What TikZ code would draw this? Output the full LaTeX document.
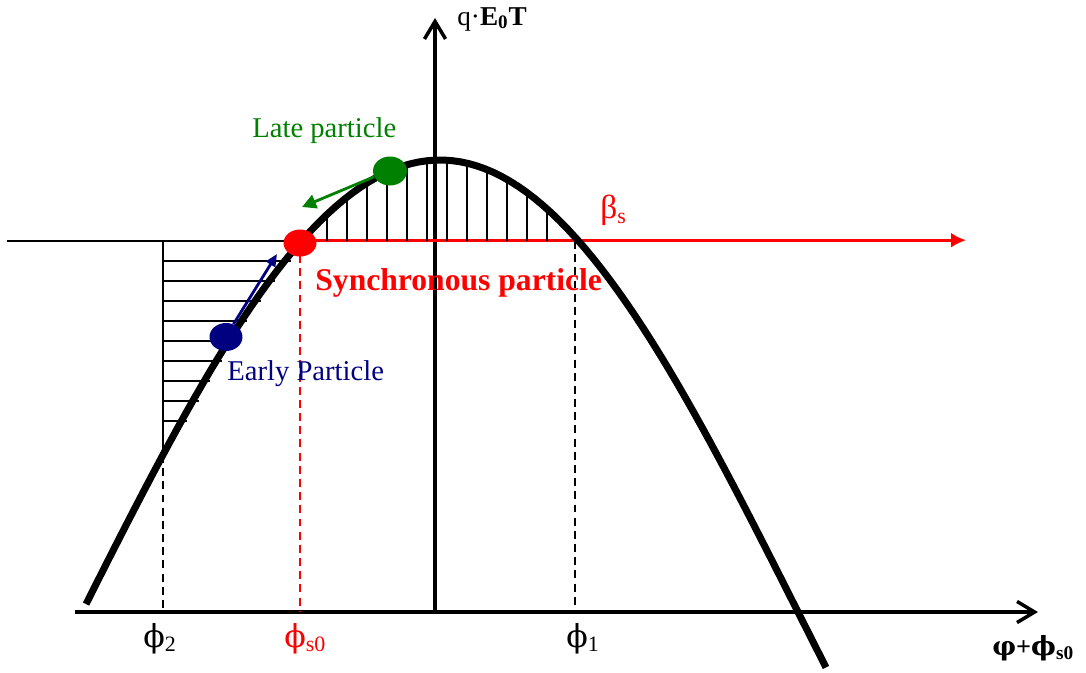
\documentclass[tikz,border=0pt]{standalone}
\usepackage{fontspec}
\setmainfont{Liberation Serif}
\newfontfamily\grk{DejaVu Serif}
\usepackage{xcolor}
\usepackage{tikz}
\usetikzlibrary{arrows.meta,shapes.geometric}
\definecolor{figRed}{HTML}{FF0000}
\definecolor{figNavy}{HTML}{000080}
\definecolor{figGreen}{HTML}{008000}

% phase label: big phi with a subscript
\newcommand{\phaselbl}[1]{{\grk\fontsize{18}{22}\selectfont ϕ}{\fontsize{12.5}{14}\selectfont\raisebox{-2.5pt}{#1}}}

\begin{document}
\begin{tikzpicture}[
  x=0.02cm, y=-0.02cm,
  every node/.style={inner sep=0pt},
  axis/.style={line width=2pt, -{Straight Barb[length=10pt,width=12pt,line width=2pt]}},
  hatch/.style={line width=1pt},
  guide/.style={line width=0.9pt, dash pattern=on 4.5pt off 3pt},
  dot/.style={ellipse, fill, minimum width=0.66cm, minimum height=0.56cm},
  lbl/.style={font=\fontsize{16.3}{19}\selectfont, anchor=base west},
]

% --- Constants ---
\def\cx{440}    % crest position
\def\amp{452}   % amplitude
\def\kw{0.2514} % degrees per pixel
\def\yax{612}   % phase axis
\def\ys{241}    % synchronous level

\useasboundingbox (0,0) rectangle (1086,673);

% --- Axes ---
\coordinate (xstart) at (75,\yax);
\coordinate (xend)   at (1038,\yax);
\coordinate (ystart) at (435,\yax);
\coordinate (yend)   at (435,18);
\draw[axis] (xstart) -- (xend);
\draw[axis] (ystart) -- (yend);

% --- Synchronous level ---
\coordinate (lvlstart) at (7,\ys);
\coordinate (lvlend)   at (908,\ys);
\coordinate (betastart) at (300,\ys-0.8);
\coordinate (betaend)   at (966,\ys-0.8);
\draw[line width=1.2pt] (lvlstart) -- (lvlend);
\draw[figRed, line width=1.6pt, -{Latex[length=8.5pt,width=8.5pt]}] (betastart) -- (betaend);

% --- Vertical hatching under the crest ---
\foreach \x in {327,347,...,547} {
  \draw[hatch] (\x,\ys) -- (\x,{\yax-\amp*cos((\x-\cx)*\kw)});
}

% --- Horizontal hatching on the left ---
\foreach \y in {261,281,...,421} {
  \draw[hatch] (163,\y) -- ({\cx-acos((\yax-\y)/\amp)/\kw+6},\y);
}
\draw[hatch] (163,\ys) -- (163,455);

% --- Phase guides ---
\draw[guide] (163,455) -- (163,\yax);
\draw[guide] (575,\ys) -- (575,\yax);
\draw[guide, figRed, line width=1pt] (300,255) -- (300,\yax);

% --- RF wave ---
\draw[line width=4pt] plot[domain=86:826, samples=90, variable=\x]
  (\x,{\yax-\amp*cos((\x-\cx)*\kw)});

% --- Particles ---
\node[dot, figNavy] (early) at (226,337) {};
\node[dot, figRed, minimum height=0.54cm] (sync) at (300,243) {};
\node[dot, figGreen, minimum width=0.68cm, minimum height=0.58cm] (late) at (390,171) {};

\coordinate (earlyTip) at (277,254);
\coordinate (lateTip)  at (302,207);
\draw[figNavy, line width=1.6pt, -{Triangle[length=7pt,width=6pt]}] (early.60) -- (earlyTip);
\draw[figGreen, line width=1.6pt, -{Triangle[length=8pt,width=8pt]}] (late.200) -- (lateTip);

% --- Labels ---
\node[lbl, text=figGreen] (latelbl)  at (252,137) {Late particle};
\node[lbl, text=figNavy]  (earlylbl) at (227,380) {Early Particle};
\node[lbl, text=figRed, font=\fontsize{18}{20}\selectfont\bfseries] (synclbl) at (315,290) {Synchronous particle};
\node[anchor=base west, text=figRed] (betalbl) at (600,218)
  {{\fontsize{19}{22}\selectfont β}{\fontsize{12.5}{14}\selectfont\raisebox{-3pt}{s}}};
\node[anchor=base west, font=\fontsize{15.5}{18}\selectfont] (ylbl) at (457,25)
  {q·\textbf{E\textsubscript{0}T}};

\node[anchor=base west] (phi2)  at (143,647) {\phaselbl{2}};
\node[anchor=base west, text=figRed] (phis0) at (284,647) {\phaselbl{s0}};
\node[anchor=base west] (phi1)  at (566,647) {\phaselbl{1}};
\node[anchor=base west] (xlbl)  at (992,655)
  {{\grk\bfseries\fontsize{15}{18}\selectfont φ}{\fontsize{15}{18}\selectfont\bfseries +}{\grk\bfseries\fontsize{15}{18}\selectfont ϕ}{\fontsize{11}{13}\selectfont\bfseries\raisebox{-2.5pt}{s0}}};

\end{tikzpicture}
\end{document}
